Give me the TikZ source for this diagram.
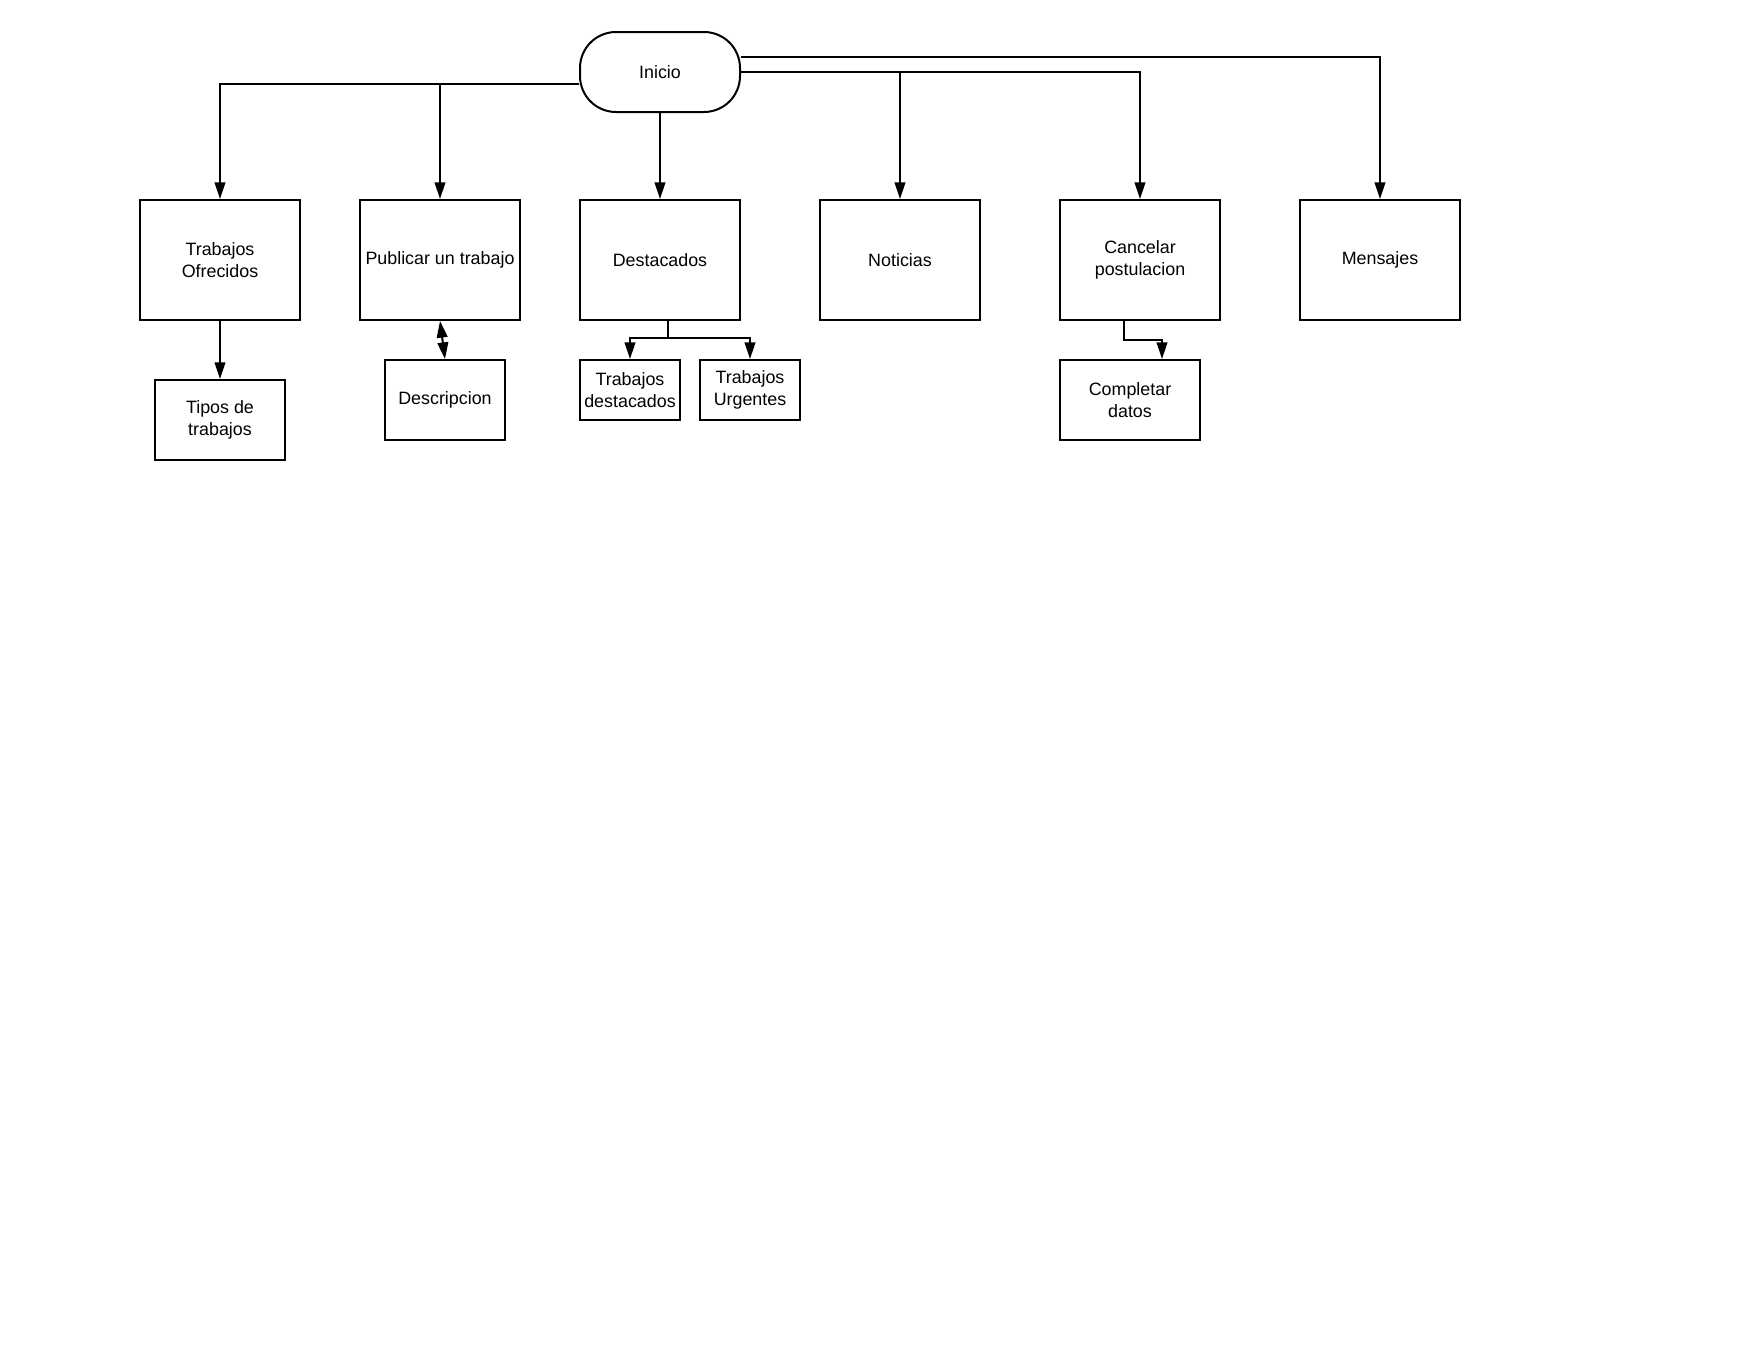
\documentclass[tikz,border=0pt]{standalone}
\usepackage{fontspec}
\setmainfont{Liberation Sans}
\usetikzlibrary{arrows.meta,positioning}

\begin{document}
\begin{tikzpicture}[
  x=0.75pt, y=-0.75pt,
  font=\fontsize{13.4}{16}\selectfont,
  box/.style={draw, line width=1.5pt, align=center, inner sep=0pt},
  mainbox/.style={box, minimum width=120pt, minimum height=90pt},
  start/.style={box, rounded corners=27pt, minimum width=120pt, minimum height=60pt},
  arr/.style={line width=1.5pt, -{Triangle[length=12.5pt,width=8pt]}},
  arrboth/.style={line width=1.5pt, {Triangle[length=12.5pt,width=8pt]}-{Triangle[length=12.5pt,width=8pt]}},
]
\useasboundingbox (0,0) rectangle (1760,1360);

% Inicio
\node[start] (inicio) at (660,72) {Inicio};

% Top row
\node[mainbox] (trab) at (220,260) {Trabajos\\Ofrecidos};
\node[mainbox] (pub)  at (440,260) {Publicar un trabajo};
\node[mainbox] (dest) at (660,260) {Destacados};
\node[mainbox] (noti) at (900,260) {Noticias};
\node[mainbox] (canc) at (1140,260) {Cancelar\\postulacion};
\node[mainbox] (mens) at (1380,260) {Mensajes};

% Second row
\node[box, minimum width=97.5pt, minimum height=60pt] (tipos) at (220,420) {Tipos de\\trabajos};
\node[box, minimum width=90pt, minimum height=60pt] (desc) at (445,400) {Descripcion};
\node[box, minimum width=75pt, minimum height=45pt] (tdest) at (630,390) {Trabajos\\destacados};
\node[box, minimum width=75pt, minimum height=45pt] (turg) at (750,390) {Trabajos\\Urgentes};
\node[box, minimum width=105pt, minimum height=60pt] (comp) at (1130,400) {Completar\\datos};

% From Inicio
\draw[arr] ([yshift=-9pt]inicio.west) -| (trab.north);
\draw[arr] ([yshift=-9pt]inicio.west) -| (pub.north);
\draw[arr] (inicio.south) -- (dest.north);
\draw[arr] (inicio.east) -| (noti.north);
\draw[arr] (inicio.east) -| (canc.north);
\draw[arr] ([yshift=11pt]inicio.east) -| (mens.north);

% Sub-items
\draw[arr] (trab.south) -- (tipos.north);
\draw[arrboth] (pub.south) -- (desc.north);

\coordinate (djoin) at (668,338);
\draw[arr] (dest.south -| djoin) -- (djoin) -| (tdest.north);
\draw[arr] (djoin) -| (turg.north);

\coordinate (cjoin) at (1124,340);
\coordinate (cdrop) at (1162,340);
\draw[arr] (canc.south -| cjoin) -- (cjoin) -- (cdrop) -- (cdrop |- comp.north);
\end{tikzpicture}
\end{document}
